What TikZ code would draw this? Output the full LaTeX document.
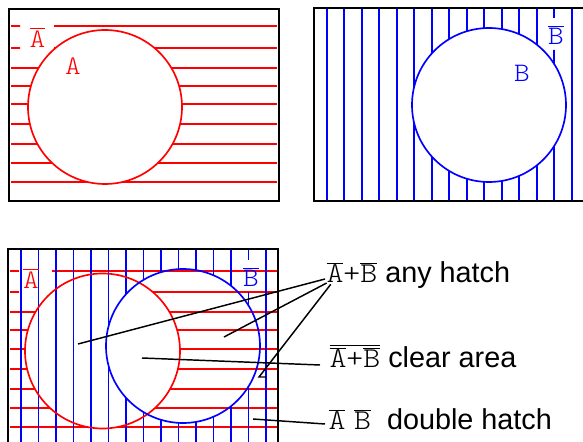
\documentclass[tikz,border=0pt]{standalone}
\usepackage{fontspec}
\setmainfont{Liberation Sans}
\setmonofont{lmmonolt10-regular}[Extension=.otf,FakeStretch=1.12]
\newcommand{\ovl}[1]{$\overline{\hbox{#1}}$}
\tikzset{every picture/.style={line width=0.75pt}}

\begin{document}
\begin{tikzpicture}[x=0.75pt,y=0.75pt,yscale=-1,xscale=1,
  frame/.style={line width=1.5pt},
  redhatch/.style={color=red,line width=1.25pt},
  bluehatch/.style={color=blue,line width=1.25pt},
  leader/.style={line width=1.1pt},
  setlabel/.style={font=\fontsize{20}{24}\ttfamily,inner sep=0.75pt},
  caption/.style={font=\fontsize{21.6}{26}\selectfont,anchor=base west,inner sep=0.75pt}]
\path[use as bounding box] (0,0) rectangle (583,442);

%Shape: Rectangle [set A, red hatch outside A]
\begin{scope}[even odd rule]
\clip (9,9) rectangle (279,201) (105,107) circle (77);
\clip (9,9) rectangle (279,201) (20,18) rectangle (54,53);
\draw[redhatch] (11,26) -- (277,26);
\draw[redhatch] (11,48) -- (277,48);
\draw[redhatch] (11,68) -- (277,68);
\draw[redhatch] (11,86) -- (277,86);
\draw[redhatch] (11,104) -- (277,104);
\draw[redhatch] (11,124) -- (277,124);
\draw[redhatch] (11,144) -- (277,144);
\draw[redhatch] (11,163) -- (277,163);
\draw[redhatch] (11,182) -- (277,182);
\end{scope}
%Shape: Circle [A]
\draw[red,line width=1.25pt] (105,107) circle (77);
\draw[frame] (9,9) rectangle (279,201);
% Text Node
\node[setlabel,red] (notA) at (37.5,37.5) {\ovl{A}};
% Text Node
\node[setlabel,red] (setA) at (73,66) {A};

%Shape: Rectangle [set B, blue hatch outside B]
\begin{scope}[even odd rule]
\clip (314,8) rectangle (586,201) (489,105) circle (77);
\clip (314,8) rectangle (586,201) (543,18) rectangle (568,50);
\draw[bluehatch] (326.7,8) -- (326.7,201);
\draw[bluehatch] (344.2,8) -- (344.2,201);
\draw[bluehatch] (361.7,8) -- (361.7,201);
\draw[bluehatch] (379.2,8) -- (379.2,201);
\draw[bluehatch] (396.7,8) -- (396.7,201);
\draw[bluehatch] (414.2,8) -- (414.2,201);
\draw[bluehatch] (431.7,8) -- (431.7,201);
\draw[bluehatch] (449.2,8) -- (449.2,201);
\draw[bluehatch] (466.7,8) -- (466.7,201);
\draw[bluehatch] (484.2,8) -- (484.2,201);
\draw[bluehatch] (501.7,8) -- (501.7,201);
\draw[bluehatch] (519.2,8) -- (519.2,201);
\draw[bluehatch] (536.7,8) -- (536.7,201);
\draw[bluehatch] (554.2,8) -- (554.2,201);
\draw[bluehatch] (571.7,8) -- (571.7,201);
\end{scope}
%Shape: Circle [B]
\draw[blue,line width=1.25pt] (489,105) circle (77);
\draw[frame] (314,8) rectangle (586,201);
% Text Node
\node[setlabel,blue] (notB) at (556,35) {\ovl{B}};
% Text Node
\node[setlabel,blue] (setB) at (522,73) {B};

%Shape: Rectangle [A and B together]
\begin{scope}[even odd rule]
\clip (8,249) rectangle (278,446) (102.5,351) circle (77.5);
\clip (8,249) rectangle (278,446) (19,262) rectangle (52,297);
\draw[redhatch] (10,271) -- (277,271);
\draw[redhatch] (10,292) -- (277,292);
\draw[redhatch] (10,312) -- (277,312);
\draw[redhatch] (10,330) -- (277,330);
\draw[redhatch] (10,349) -- (277,349);
\draw[redhatch] (10,369) -- (277,369);
\draw[redhatch] (10,389) -- (277,389);
\draw[redhatch] (10,408) -- (277,408);
\draw[redhatch] (10,427) -- (277,427);
\end{scope}
\begin{scope}[even odd rule]
\clip (8,249) rectangle (278,446) (183,346) circle (77);
\clip (8,249) rectangle (278,446) (241,260) rectangle (262,292);
\draw[bluehatch] (21,249) -- (21,446);
\draw[bluehatch] (38.5,249) -- (38.5,446);
\draw[bluehatch] (56,249) -- (56,446);
\draw[bluehatch] (73.5,249) -- (73.5,446);
\draw[bluehatch] (91,249) -- (91,446);
\draw[bluehatch] (108.5,249) -- (108.5,446);
\draw[bluehatch] (126,249) -- (126,446);
\draw[bluehatch] (143.5,249) -- (143.5,446);
\draw[bluehatch] (161,249) -- (161,446);
\draw[bluehatch] (178.5,249) -- (178.5,446);
\draw[bluehatch] (196,249) -- (196,446);
\draw[bluehatch] (213.5,249) -- (213.5,446);
\draw[bluehatch] (231,249) -- (231,446);
\draw[bluehatch] (248.5,249) -- (248.5,446);
\draw[bluehatch] (266,249) -- (266,446);
\end{scope}
%Shape: Circle [A]
\draw[red,line width=1.25pt] (102.5,351) circle (77.5);
%Shape: Circle [B]
\draw[blue,line width=1.25pt] (183,346) circle (77);
\draw[frame] (8,249) rectangle (278,446);
% Text Node
\node[setlabel,red] (notAb) at (31,278.5) {\ovl{A}};
% Text Node
\node[setlabel,blue] (notBb) at (251,277) {\ovl{B}};

% Text Node
\node[caption] (anyhatch) at (325,283) {{\ttfamily\ovl{A}+\ovl{B}} any hatch};
% Text Node
\node[caption] (cleararea) at (328,368) {{\ttfamily$\overline{\hbox{\ovl{A}+\ovl{B}}}$} clear area};
% Text Node
\node[caption] (doublehatch) at (327,430) {{\ttfamily\ovl{A}\hspace{0.3em}\ovl{B}}\ \ double hatch};

% Connection
\coordinate (inA) at (78,344);
\coordinate (inB) at (224,337);
\coordinate (hookB) at (259,377);
\coordinate (hookC) at (266,377);
\coordinate (inAB) at (142,358);
\coordinate (outAB) at (253,419);
\draw[leader] (inA) -- ([yshift=-3pt]anyhatch.base west);
\draw[leader] (inB) -- ([xshift=1.25pt]anyhatch.base west);
\draw[leader] (hookC) -- (hookB) -- ([xshift=4.3pt,yshift=1pt]anyhatch.base west);
\draw[leader] (inAB) -- ([xshift=-6pt,yshift=-2.25pt]cleararea.base west);
\draw[leader] (outAB) -- ([xshift=-1.5pt,yshift=-4.5pt]doublehatch.base west);

\end{tikzpicture}
\end{document}
